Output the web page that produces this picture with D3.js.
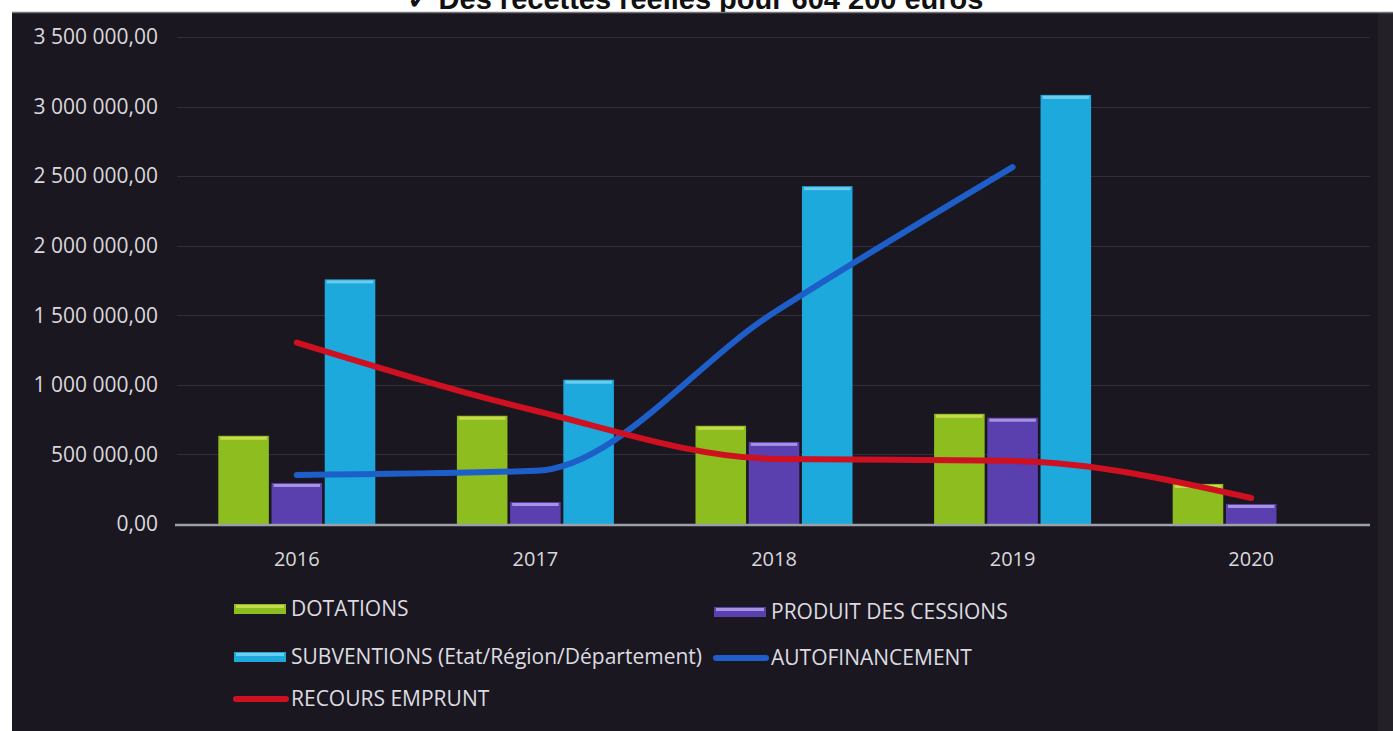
<!DOCTYPE html>
<html>
<head>
<meta charset="utf-8">
<script src="https://cdn.jsdelivr.net/npm/d3@7"></script>
<style>
  html, body { margin: 0; padding: 0; background: #ffffff; }
  svg { display: block; }
</style>
</head>
<body>
<svg id="chart" width="1393" height="731"></svg>
<script>
// ---- data ----
const years = ["2016", "2017", "2018", "2019", "2020"];
const dotations = [634000, 778000, 706000, 792000, 288000];
const cessions = [295000, 158000, 590000, 764000, 144000];
const subventions = [1758000, 1037000, 2428000, 3084000, null];
const autofinancement = [353000, 382000, 1520000, 2565000, null];
const recoursEmprunt = [1304000, 814000, 468000, 454000, 187000];
const yTicks = [0, 500000, 1000000, 1500000, 2000000, 2500000, 3000000, 3500000];
const barSeries = [
  { name: "DOTATIONS", values: dotations, color: "#8dbd1e", top: "#d6e05a" },
  { name: "PRODUIT DES CESSIONS", values: cessions, color: "#5a3fae", top: "#b9a8ee" },
  { name: "SUBVENTIONS (Etat/Région/Département)", values: subventions, color: "#1ea9dd", top: "#7fd5f2" }
];
const lineSeries = [
  { name: "AUTOFINANCEMENT", values: autofinancement, color: "#1e5ec9" },
  { name: "RECOURS EMPRUNT", values: recoursEmprunt, color: "#cf1020" }
];
const title = "✓ Des recettes réelles pour 604 200 euros";

// ---- drawing ----
const svg = d3.select("#chart");
const font = "'Open Sans', sans-serif";

// title (partly hidden by the dark frame, as in the scan)
svg.append("text")
  .attr("x", 695).attr("y", 9)
  .attr("text-anchor", "middle")
  .attr("font-family", "'Liberation Sans', Arial, sans-serif")
  .attr("font-weight", "bold")
  .attr("font-size", 29)
  .attr("fill", "#111")
  .text(title);

// dark frame
svg.append("rect").attr("x", 1378).attr("y", 13).attr("width", 15).attr("height", 718).attr("fill", "#232027");
svg.append("rect").attr("x", 12).attr("y", 12).attr("width", 1366).attr("height", 719).attr("fill", "#1b1720");
svg.append("line").attr("x1", 12).attr("x2", 1393).attr("y1", 12.5).attr("y2", 12.5).attr("stroke", "#77737a").attr("stroke-width", 1.5);

const y = d3.scaleLinear().domain([0, 3500000]).range([524, 37]);
const x0 = d3.scaleBand().domain(years).range([177.5, 1370.5]).paddingInner(0).paddingOuter(0);
const groupW = 157;
const off = (x0.bandwidth() - groupW) / 2;
const x1 = d3.scaleBand().domain(barSeries.map(s => s.name)).range([off, off + groupW]).paddingInner(0.05);

const loc = d3.formatLocale({ decimal: ",", thousands: "\u00a0", grouping: [3], currency: ["", ""] });
const fmt = loc.format(",.2f");

// gridlines
svg.append("g").selectAll("line").data(yTicks.filter(d => d > 0)).join("line")
  .attr("x1", 177).attr("x2", 1370)
  .attr("y1", d => Math.round(y(d)) + 0.5).attr("y2", d => Math.round(y(d)) + 0.5)
  .attr("stroke", "#322d38").attr("stroke-width", 1);

// y-axis labels
svg.append("g").selectAll("text").data(yTicks).join("text")
  .attr("x", 158).attr("y", d => y(d))
  .attr("dy", "0.35em")
  .attr("text-anchor", "end")
  .attr("font-family", font).attr("font-size", 21)
  .attr("fill", "#d9d9dc")
  .text(d => fmt(d));

// bars
const barG = svg.append("g");
barSeries.forEach(s => {
  const data = years.map((yr, i) => ({ yr, v: s.values[i] })).filter(d => d.v != null && d.v > 0);
  const g = barG.append("g");
  g.selectAll("rect.bar").data(data).join("rect")
    .attr("class", "bar")
    .attr("x", d => x0(d.yr) + x1(s.name))
    .attr("y", d => y(d.v))
    .attr("width", x1.bandwidth())
    .attr("height", d => y(0) - y(d.v))
    .attr("fill", s.color);
  g.selectAll("rect.top").data(data).join("rect")
    .attr("class", "top")
    .attr("x", d => x0(d.yr) + x1(s.name) + 2)
    .attr("y", d => y(d.v) + 1)
    .attr("width", x1.bandwidth() - 4)
    .attr("height", 3)
    .attr("fill", s.top).attr("opacity", 0.8);
});

// baseline
svg.append("line").attr("x1", 175).attr("x2", 1370)
  .attr("y1", y(0) + 1).attr("y2", y(0) + 1)
  .attr("stroke", "#9aa0a8").attr("stroke-width", 2.5);

// x labels
svg.append("g").selectAll("text").data(years).join("text")
  .attr("x", d => x0(d) + x0.bandwidth() / 2)
  .attr("y", 559)
  .attr("dy", "0.35em")
  .attr("text-anchor", "middle")
  .attr("font-family", font).attr("font-size", 20)
  .attr("fill", "#d9d9dc")
  .text(d => d);

// lines
const lineGen = d3.line()
  .defined(d => d.v != null)
  .x(d => x0(d.yr) + x0.bandwidth() / 2)
  .y(d => y(d.v))
  .curve(d3.curveMonotoneX);
lineSeries.forEach(s => {
  const data = years.map((yr, i) => ({ yr, v: s.values[i] }));
  svg.append("path").datum(data)
    .attr("d", lineGen)
    .attr("fill", "none")
    .attr("stroke", s.color)
    .attr("stroke-width", 6)
    .attr("stroke-linecap", "round")
    .attr("stroke-linejoin", "round");
});

// legend
const legendItems = [
  { s: barSeries[0], type: "bar", x: 234, y: 609 },
  { s: barSeries[1], type: "bar", x: 714, y: 612 },
  { s: barSeries[2], type: "bar", x: 234, y: 657 },
  { s: lineSeries[0], type: "line", x: 714, y: 658 },
  { s: lineSeries[1], type: "line", x: 234, y: 699 }
];
const lg = svg.append("g");
legendItems.forEach(it => {
  const g = lg.append("g").attr("transform", `translate(${it.x},${it.y})`);
  if (it.type === "bar") {
    g.append("rect").attr("x", 0).attr("y", -5).attr("width", 52).attr("height", 10).attr("fill", it.s.color);
    g.append("rect").attr("x", 2).attr("y", -4).attr("width", 48).attr("height", 3).attr("fill", it.s.top).attr("opacity", 0.8);
  } else {
    g.append("line").attr("x1", 2).attr("x2", 52).attr("y1", 0).attr("y2", 0)
      .attr("stroke", it.s.color).attr("stroke-width", 6).attr("stroke-linecap", "round");
  }
  g.append("text").attr("x", 57).attr("y", 0).attr("dy", "0.35em")
    .attr("font-family", font).attr("font-size", 21)
    .attr("fill", "#dcdce0")
    .text(it.s.name);
});
</script>
</body>
</html>
